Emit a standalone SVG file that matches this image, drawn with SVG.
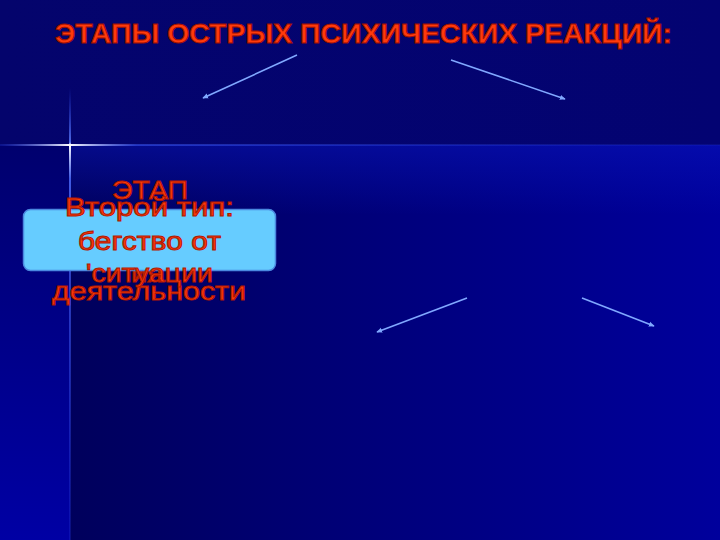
<svg xmlns="http://www.w3.org/2000/svg" width="720" height="540" viewBox="0 0 720 540">
  <defs>
    <linearGradient id="gMain" x1="0" y1="0" x2="1" y2="0">
      <stop offset="0" stop-color="#00005c"/>
      <stop offset="0.5" stop-color="#00007c"/>
      <stop offset="1" stop-color="#00009c"/>
    </linearGradient>
    <linearGradient id="gMainTop" x1="0" y1="0" x2="0" y2="1">
      <stop offset="0" stop-color="#0a18c0" stop-opacity="0.45"/>
      <stop offset="1" stop-color="#0a18c0" stop-opacity="0"/>
    </linearGradient>
    <linearGradient id="gLeft" x1="0" y1="0" x2="0" y2="1">
      <stop offset="0" stop-color="#00006e"/>
      <stop offset="1" stop-color="#0000a4"/>
    </linearGradient>
    <linearGradient id="gTop" x1="0" y1="0" x2="1" y2="0">
      <stop offset="0" stop-color="#04046c"/>
      <stop offset="1" stop-color="#030372"/>
    </linearGradient>
    <linearGradient id="gV" x1="0" y1="88" x2="0" y2="540" gradientUnits="userSpaceOnUse">
      <stop offset="0" stop-color="#3050ff" stop-opacity="0"/>
      <stop offset="0.12" stop-color="#6080ff" stop-opacity="0.8"/>
      <stop offset="0.126" stop-color="#ffffff"/>
      <stop offset="0.2" stop-color="#5070ff" stop-opacity="0.8"/>
      <stop offset="1" stop-color="#2030d0" stop-opacity="0.3"/>
    </linearGradient>
    <linearGradient id="gH" x1="0" y1="0" x2="720" y2="0" gradientUnits="userSpaceOnUse">
      <stop offset="0" stop-color="#3050ff" stop-opacity="0.2"/>
      <stop offset="0.097" stop-color="#ffffff"/>
      <stop offset="0.19" stop-color="#4060ff" stop-opacity="0.5"/>
      <stop offset="1" stop-color="#1828c0" stop-opacity="0.25"/>
    </linearGradient>
    <marker id="arr" viewBox="0 0 10 10" refX="8" refY="5" markerWidth="4" markerHeight="4" orient="auto">
      <path d="M0,1 L9,5 L0,9 z" fill="#80a8ff"/>
    </marker>
    <style>
      .red { font-family: "Liberation Sans", Arial, sans-serif; fill: #ff3a0c; stroke: #b01800; stroke-width: 1; }
      .title { font-family: "Liberation Sans Narrow", "Liberation Sans", Arial, sans-serif; font-weight: bold; font-size: 27px; fill: #ff3a0c; stroke: #a01000; stroke-width: 1; }
      .body { font-size: 25px; }
      .conn line { stroke: #80a8ff; stroke-width: 1.6; marker-end: url(#arr); }
    </style>
  </defs>

  <!-- background -->
  <rect x="0" y="0" width="720" height="540" fill="url(#gTop)"/>
  <rect x="70" y="145" width="650" height="395" fill="url(#gMain)"/>
  <rect x="70" y="145" width="650" height="70" fill="url(#gMainTop)"/>
  <rect x="0" y="145" width="70" height="395" fill="url(#gLeft)"/>

  <!-- sparkle -->
  <rect x="69" y="88" width="2" height="452" fill="url(#gV)"/>
  <rect x="0" y="144" width="720" height="2" fill="url(#gH)"/>

  <!-- title -->
  <g id="title">
    <text class="title" x="55" y="43" textLength="617" lengthAdjust="spacingAndGlyphs">ЭТАПЫ ОСТРЫХ ПСИХИЧЕСКИХ РЕАКЦИЙ:</text>
  </g>

  <!-- connectors -->
  <g id="connectors" class="conn">
    <line x1="297" y1="55" x2="203" y2="98"/>
    <line x1="451" y1="60" x2="565" y2="99"/>
    <line x1="467" y1="298" x2="377" y2="332"/>
    <line x1="582" y1="298" x2="654" y2="326"/>
  </g>

  <!-- stage text (partly hidden behind box) -->
  <g id="stage">
    <text class="red body" x="112" y="199" textLength="76" lengthAdjust="spacingAndGlyphs">ЭТАП</text>
    <text class="red body" x="131" y="282" textLength="32" lengthAdjust="spacingAndGlyphs" style="fill:#d82a08">ия</text>
    <text class="red body" x="52" y="300" textLength="194" lengthAdjust="spacingAndGlyphs">деятельности</text>
  </g>

  <!-- box node -->
  <g id="second-type">
    <rect x="23.5" y="209.5" width="252" height="61" rx="7" fill="#66ccff" stroke="#4a88e0" stroke-width="1.5"/>
    <text class="red body" x="65" y="216" textLength="169" lengthAdjust="spacingAndGlyphs">Второй тип:</text>
    <text class="red body" x="78" y="250" textLength="143" lengthAdjust="spacingAndGlyphs">бегство от</text>
    <text class="red body" x="86" y="282" textLength="127" lengthAdjust="spacingAndGlyphs">'ситуации</text>
  </g>
</svg>
